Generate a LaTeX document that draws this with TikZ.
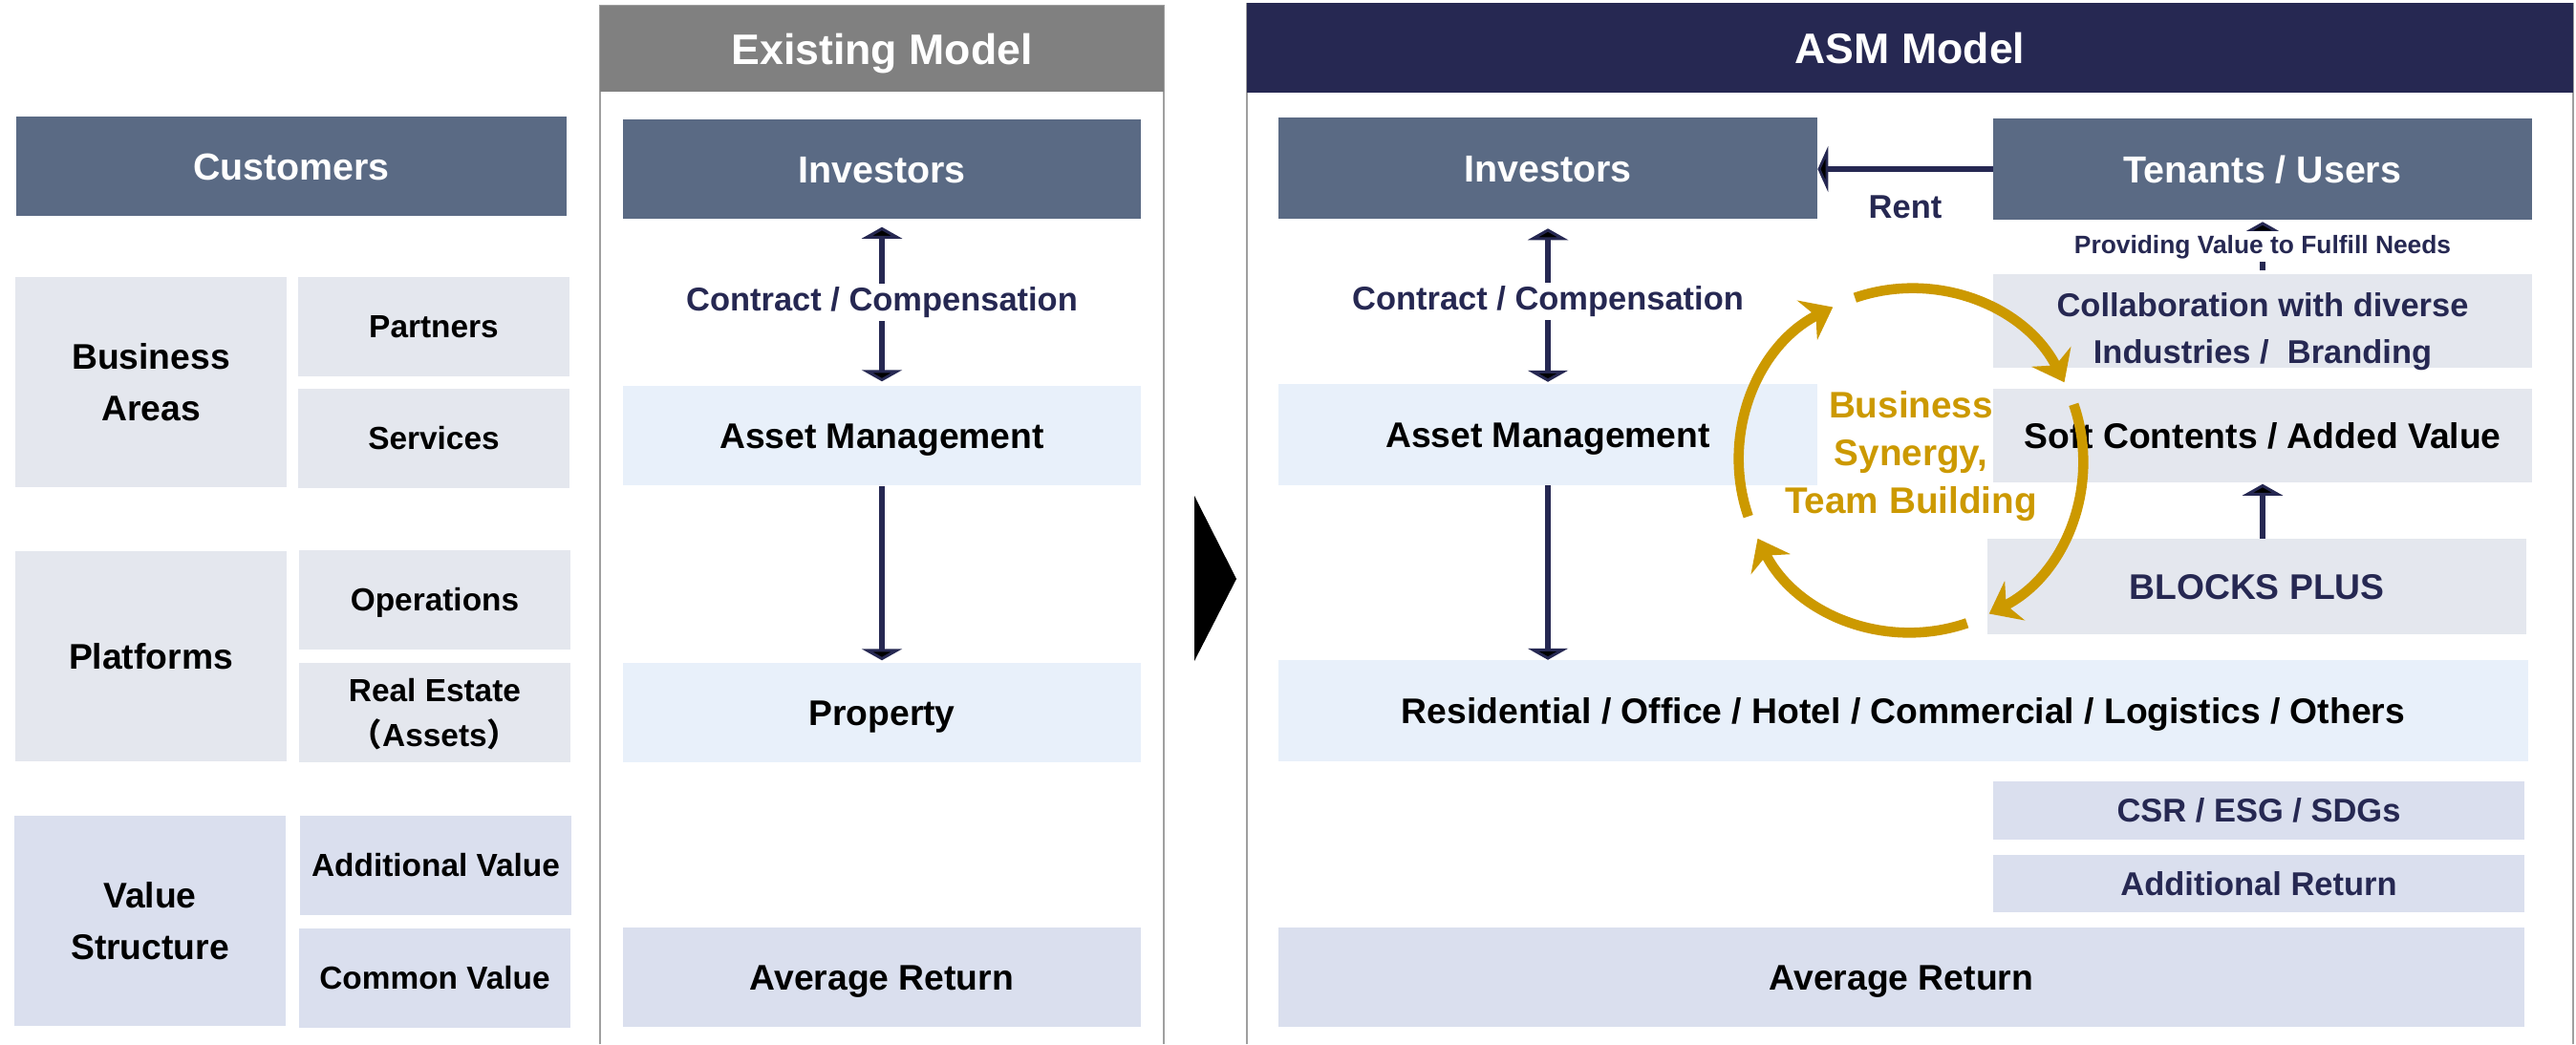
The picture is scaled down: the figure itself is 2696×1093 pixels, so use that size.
\documentclass[tikz,border=0pt]{standalone}
\usepackage{fontspec}
\setmainfont{Liberation Sans}
\newfontfamily\cjk{Noto Sans CJK JP}
\usetikzlibrary{arrows.meta}

\definecolor{slate}{RGB}{90,106,132}
\definecolor{navy}{RGB}{38,40,82}
\definecolor{paleg}{RGB}{228,231,238}
\definecolor{paleb}{RGB}{232,240,250}
\definecolor{lav}{RGB}{218,223,238}
\definecolor{gold}{RGB}{204,153,0}
\definecolor{hdrgray}{RGB}{128,128,128}

\begin{document}
\begin{tikzpicture}[x=0.01cm,y=-0.01cm,>={Triangle[width=4.2mm,length=1.2mm,fill=black]},
  box/.style={rectangle,inner sep=0pt,align=center,text=black,text height=7.6pt,text depth=0pt,
    font=\bfseries\fontsize{10.6}{15.3}\selectfont},
  dark box/.style={box,fill=slate,text=white,text height=8pt,font=\bfseries\fontsize{11.2}{14}\selectfont},
  grey box/.style={box,fill=paleg},
  blue box/.style={box,fill=paleb},
  lav box/.style={box,fill=lav},
  sub/.style={text height=6.8pt,font=\bfseries\fontsize{9.5}{13.6}\selectfont},
  navy txt/.style={text=navy,text height=7pt,font=\bfseries\fontsize{9.8}{13.9}\selectfont},
  head/.style={box,text=white,text height=9.1pt,font=\bfseries\fontsize{12.7}{15}\selectfont},
  tall/.style={minimum width=2.84cm,minimum height=2.2cm},
  small/.style={minimum width=2.83cm,minimum height=1.04cm},
  wide/.style={minimum width=5.42cm,minimum height=1.04cm},
  mid/.style={minimum width=5.63cm,minimum height=1.05cm},
  arr/.style={draw=navy,line width=1.8pt},
  lbl/.style={fill=white,inner sep=1pt,navy txt,text height={},text depth={}},
  cyc/.style={draw=gold,line width=3pt,-{Stealth[length=3mm,width=4.6mm,inset=1mm]}}]

  \useasboundingbox[fill=white] (0,0) rectangle (2696,1093);

  % left column
  \node[dark box,minimum width=5.76cm,minimum height=1.03cm] (cust) at (305,174) {Customers};
  \node[grey box,tall,text height=22.9pt] (ba) at (158,400) {Business\\Areas};
  \node[grey box,small,sub] (part) at (454,342) {Partners};
  \node[grey box,small,sub] (serv) at (454,459) {Services};
  \node[grey box,tall] (plat) at (158,687) {Platforms};
  \node[grey box,small,sub] (oper) at (455,628) {Operations};
  \node[grey box,small,sub,text height=20.4pt] (re) at (455,746) {Real Estate\\{\cjk （}Assets{\cjk ）}};
  \node[lav box,tall,text height=22.9pt] (vs) at (157,964) {Value\\Structure};
  \node[lav box,small,sub] (addv) at (456,906) {Additional Value};
  \node[lav box,small,sub] (comv) at (455,1024) {Common Value};

  % existing model
  \draw[gray!75] (628,1093) -- (628,6) -- (1218,6) -- (1218,1093);
  \node[head,fill=hdrgray,minimum width=5.9cm,minimum height=0.9cm] (exh) at (923,51) {Existing Model};
  \node[dark box,wide] (inv1) at (923,177) {Investors};
  \node[blue box,wide] (am1) at (923,456) {Asset Management};
  \node[blue box,wide] (prop) at (923,746) {Property};
  \node[lav box,wide] (avg1) at (923,1023) {Average Return};

  \path[] (inv1) [arr,<->,shorten <=0.8mm,shorten >=0.4mm] edge node [lbl] {Contract / Compensation} (am1);
  \path[] (am1) [arr,->,shorten >=0.2mm] edge node [] {} (prop);

  \fill[black] (1250,519) -- (1294,606) -- (1250,692) -- cycle;

  % ASM model
  \draw[gray!75] (1305,1093) -- (1305,4) -- (2693,4) -- (2693,1093);
  \node[head,fill=navy,minimum width=13.88cm,minimum height=0.93cm] (asmh) at (1999,50) {ASM Model};
  \node[dark box,mid] (inv2) at (1620,176) {Investors};
  \node[dark box,mid] (ten) at (2368,177) {Tenants / Users};
  \node[blue box,mid] (am2) at (1620,455) {Asset Management};
  \node[grey box,mid,navy txt,text height=25.1pt,minimum height=0.98cm] (coll) at (2368,336) {Collaboration with diverse\\Industries /\ \ Branding};
  \node[grey box,mid,minimum height=0.98cm] (soft) at (2368,456) {Soft Contents / Added Value};
  \node[grey box,mid,text=navy,minimum height=0.99cm] (bp) at (2362,614) {BLOCKS PLUS};
  \node[blue box,minimum width=13.07cm,minimum height=1.05cm] (res) at (1992,744) {Residential / Office / Hotel / Commercial / Logistics / Others};
  \node[lav box,navy txt,minimum width=5.56cm,minimum height=0.61cm] (csr) at (2364,848) {CSR / ESG / SDGs};
  \node[lav box,navy txt,minimum width=5.56cm,minimum height=0.6cm] (addr) at (2364,925) {Additional Return};
  \node[lav box,minimum width=13.04cm,minimum height=1.04cm] (avg2) at (1990,1023) {Average Return};

  \path[] (inv2) [arr,<->,shorten <=1mm,shorten >=0.2mm] edge node [lbl] {Contract / Compensation} (am2);
  \draw[arr,->] (am2) -- (am2 |- res.north);
  \draw[arr,-{Triangle[width=4.8mm,length=1.1mm,fill=black]}] (ten) -- (ten -| inv2.east)
    node [midway,below=1.2mm,navy txt] {Rent};
  \path[] (coll) [arr,->,shorten <=0.3mm,shorten >=0.2mm] edge node [lbl,font=\bfseries\fontsize{7.5}{9}\selectfont] {Providing Value to Fulfill Needs} (ten);
  \draw[arr,->,shorten >=0.1mm] (bp.north -| soft) -- (soft);

  % synergy cycle
  \coordinate (cyc) at (2000,482);
  \node[text=gold,align=center,font=\bfseries\fontsize{11}{14.2}\selectfont] (syn) at (2000,478) {Business\\Synergy,\\Team Building};
  \draw[cyc] ([shift={(109:1.8cm)}]cyc) arc[start angle=109,delta angle=-82,radius=1.8cm];
  \draw[cyc] ([shift={(19:1.8cm)}]cyc) arc[start angle=19,delta angle=-82,radius=1.8cm];
  \draw[cyc] ([shift={(-71:1.8cm)}]cyc) arc[start angle=-71,delta angle=-82,radius=1.8cm];
  \draw[cyc] ([shift={(-161:1.8cm)}]cyc) arc[start angle=-161,delta angle=-82,radius=1.8cm];
\end{tikzpicture}
\end{document}
